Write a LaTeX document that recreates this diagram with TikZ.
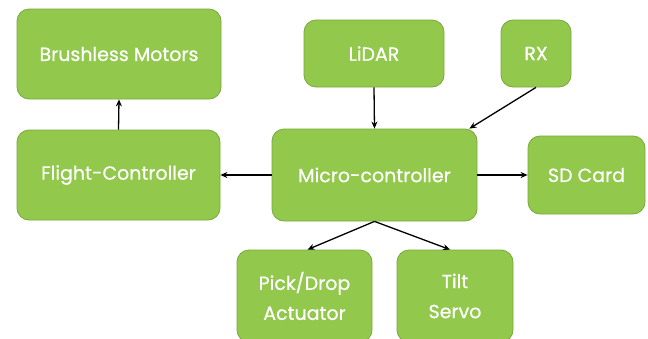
\documentclass[tikz,border=0pt]{standalone}
\usepackage{fontspec}
\setmainfont{Poppins}[FakeBold=0.6]
\usetikzlibrary{arrows.meta}
\definecolor{boxfill}{HTML}{92C94D}
\definecolor{boxedge}{HTML}{78A83A}
\tikzset{
  blk/.style={draw=boxedge, line width=0.8pt, fill=boxfill, rounded corners=12pt,
    text=white, font=\fontsize{19}{30}\selectfont, align=center, inner sep=0pt},
  conn/.style={draw=black, line width=1.3pt, -{Stealth[length=7pt,width=6pt]}}
}
\begin{document}
\begin{tikzpicture}[x=1pt,y=-1pt]
\useasboundingbox (0,0) rectangle (648,338);
\node[blk, minimum width=204pt, minimum height=90pt] (bm) at (119,54) {Brushless Motors};
\node[blk, minimum width=203pt, minimum height=90pt] (fc) at (118.5,175) {Flight-Controller};
\node[blk, minimum width=140pt, minimum height=67pt] (lidar) at (374,53.5) {LiDAR};
\node[blk, minimum width=70pt, minimum height=67pt] (rx) at (536,53.5) {RX};
\node[blk, minimum width=205pt, minimum height=92pt] (mc) at (374.5,175) {Micro-controller};
\node[blk, minimum width=117pt, minimum height=78pt] (sd) at (586.5,175) {SD Card};
\node[blk, minimum width=135pt, minimum height=92pt] (pd) at (304.5,296) {Pick/Drop\\Actuator};
\node[blk, minimum width=116pt, minimum height=92pt] (ts) at (455,296) {Tilt\\Servo};
\draw[conn] (fc.north) -- (bm.south);
\draw[conn] (lidar.south) -- (mc.north);
\draw[conn] (rx.south) -- ([xshift=-8pt]mc.north east);
\draw[conn] (mc.west) -- (fc.east);
\draw[conn] (mc.east) -- (sd.west);
\draw[conn] (mc.south) -- ([xshift=3pt]pd.north);
\draw[conn] (mc.south) -- ([xshift=-5pt]ts.north);
\end{tikzpicture}
\end{document}
